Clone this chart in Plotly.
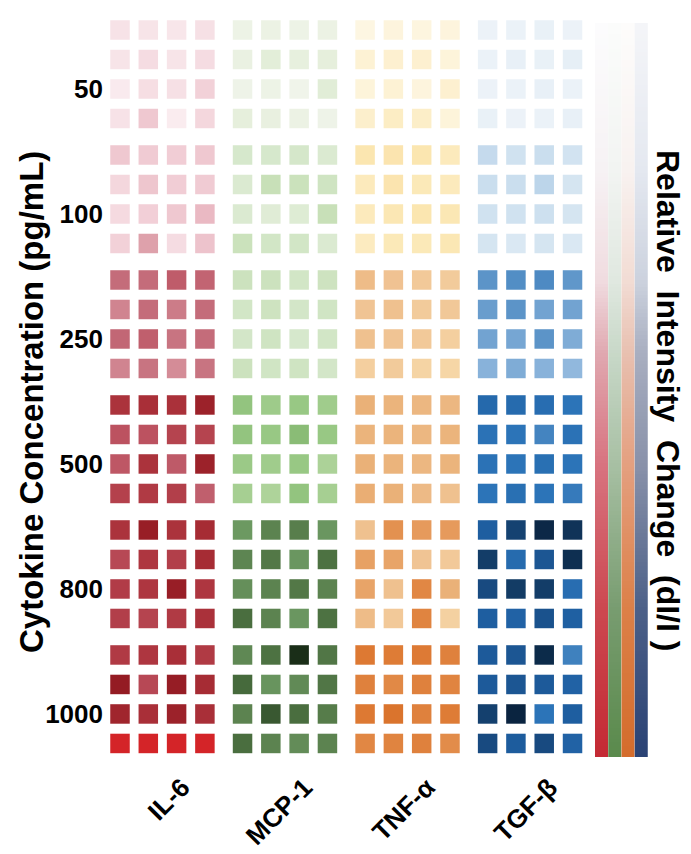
import numpy as np
import plotly.graph_objects as go

# ---- data -------------------------------------------------------------
cytokines = ["IL-6", "MCP-1", "TNF-α", "TGF-β"]
concentrations = ["50", "100", "250", "500", "800", "1000"]

# relative intensity change per well: 6 concentrations x 4 replicate rows, 4 wells per row
il6 = [
    [0.09, 0.08, 0.07, 0.10], [0.08, 0.12, 0.08, 0.12], [0.05, 0.11, 0.10, 0.18], [0.09, 0.22, 0.04, 0.15],
    [0.22, 0.21, 0.20, 0.22], [0.15, 0.23, 0.20, 0.21], [0.13, 0.19, 0.22, 0.28], [0.18, 0.36, 0.12, 0.24],
    [0.50, 0.50, 0.56, 0.53], [0.44, 0.50, 0.46, 0.50], [0.52, 0.55, 0.48, 0.50], [0.44, 0.48, 0.42, 0.48],
    [0.74, 0.76, 0.75, 0.84], [0.60, 0.60, 0.66, 0.66], [0.58, 0.74, 0.57, 0.84], [0.67, 0.70, 0.68, 0.55],
    [0.74, 0.86, 0.74, 0.78], [0.64, 0.72, 0.68, 0.78], [0.69, 0.72, 0.86, 0.72], [0.68, 0.66, 0.70, 0.75],
    [0.70, 0.72, 0.76, 0.70], [0.88, 0.64, 0.87, 0.78], [0.82, 0.76, 0.84, 0.76], [1.00, 1.00, 1.00, 1.00],
]
mcp1 = [
    [0.05, 0.06, 0.05, 0.06], [0.07, 0.12, 0.09, 0.10], [0.04, 0.05, 0.03, 0.13], [0.10, 0.08, 0.06, 0.04],
    [0.20, 0.20, 0.21, 0.17], [0.17, 0.30, 0.28, 0.25], [0.17, 0.14, 0.15, 0.30], [0.28, 0.23, 0.23, 0.17],
    [0.27, 0.27, 0.23, 0.26], [0.23, 0.26, 0.22, 0.24], [0.22, 0.25, 0.20, 0.23], [0.27, 0.24, 0.25, 0.22],
    [0.52, 0.48, 0.50, 0.47], [0.52, 0.50, 0.56, 0.50], [0.49, 0.47, 0.50, 0.43], [0.45, 0.42, 0.52, 0.45],
    [0.69, 0.78, 0.80, 0.70], [0.77, 0.83, 0.70, 0.86], [0.73, 0.78, 0.83, 0.78], [0.88, 0.78, 0.70, 0.86],
    [0.76, 0.86, 1.00, 0.84], [0.90, 0.71, 0.75, 0.84], [0.78, 0.93, 0.88, 0.81], [0.88, 0.78, 0.74, 0.78],
]
tnfa = [
    [0.06, 0.08, 0.07, 0.08], [0.11, 0.12, 0.12, 0.09], [0.09, 0.11, 0.08, 0.12], [0.13, 0.15, 0.14, 0.09],
    [0.20, 0.21, 0.20, 0.17], [0.17, 0.21, 0.18, 0.17], [0.17, 0.19, 0.20, 0.19], [0.16, 0.18, 0.18, 0.19],
    [0.45, 0.41, 0.37, 0.36], [0.40, 0.42, 0.36, 0.38], [0.42, 0.40, 0.37, 0.34], [0.34, 0.36, 0.31, 0.30],
    [0.52, 0.50, 0.48, 0.48], [0.50, 0.50, 0.48, 0.50], [0.52, 0.50, 0.48, 0.50], [0.54, 0.52, 0.46, 0.42],
    [0.42, 0.72, 0.66, 0.66], [0.62, 0.60, 0.40, 0.37], [0.60, 0.42, 0.78, 0.52], [0.45, 0.37, 0.80, 0.33],
    [0.88, 0.86, 0.87, 0.82], [0.82, 0.77, 0.82, 0.80], [0.88, 0.92, 0.82, 0.86], [0.78, 0.80, 0.82, 0.75],
]
tgfb = [
    [0.07, 0.08, 0.09, 0.07], [0.08, 0.10, 0.09, 0.11], [0.07, 0.08, 0.10, 0.08], [0.09, 0.07, 0.08, 0.10],
    [0.24, 0.20, 0.22, 0.19], [0.22, 0.22, 0.27, 0.18], [0.20, 0.20, 0.21, 0.18], [0.18, 0.16, 0.18, 0.16],
    [0.50, 0.52, 0.53, 0.49], [0.47, 0.50, 0.45, 0.45], [0.45, 0.44, 0.50, 0.42], [0.40, 0.42, 0.40, 0.38],
    [0.65, 0.64, 0.63, 0.60], [0.61, 0.60, 0.55, 0.61], [0.61, 0.60, 0.62, 0.60], [0.60, 0.62, 0.60, 0.58],
    [0.70, 0.85, 0.98, 0.93], [0.88, 0.64, 0.74, 0.95], [0.80, 0.89, 0.88, 0.63], [0.70, 0.68, 0.76, 0.69],
    [0.72, 0.74, 0.97, 0.56], [0.72, 0.74, 0.72, 0.68], [0.86, 1.00, 0.60, 0.70], [0.80, 0.71, 0.80, 0.68],
]
values = [il6, mcp1, tnfa, tgfb]

# ---- colour scales ----------------------------------------------------
def ramp(colors):
    n = len(colors) - 1
    return [[i / n, c] for i, c in enumerate(colors)]

well_scales = [
    ramp(["#fcf4f6", "#f6e0e5", "#f1cdd5", "#e8b4be", "#d8949e", "#c46c7a",
          "#bc5260", "#b03a44", "#a42830", "#901820", "#d42428"]),
    ramp(["#f4f6f0", "#e6efdc", "#d6e8cc", "#c8e0b8", "#b4d6a0", "#98c884",
          "#80b46c", "#6a9660", "#587e4c", "#466a3c", "#1a2e18"]),
    ramp(["#fefaf0", "#fdf3d8", "#fbe6b0", "#f6d6a6", "#f0c494", "#ebb47c",
          "#e8a468", "#e49454", "#e08440", "#dc7630", "#d46a20"]),
    ramp(["#f6f8fb", "#e8f0f7", "#d0e2f0", "#b4cfe8", "#88b2da", "#5c94c8",
          "#2c74b8", "#1e5ea0", "#184a80", "#123a62", "#0a2440"]),
]
bar_scales = [
    [[0, "#fcfcfd"], [0.2, "#f6f2f4"], [0.35, "#f0dce0"], [0.45, "#e0a8b0"], [0.6, "#d87480"], [0.8, "#cc4850"], [1, "#c42a34"]],
    [[0, "#fbfcfb"], [0.2, "#f2f4f2"], [0.35, "#e0e8e0"], [0.45, "#c8d8c8"], [0.6, "#a8c0a4"], [0.8, "#789c70"], [1, "#5a8a4c"]],
    [[0, "#fdfcfb"], [0.2, "#f8f2f0"], [0.35, "#f2dcd4"], [0.45, "#e8c0b0"], [0.6, "#e4a080"], [0.8, "#dc8048"], [1, "#d46c2c"]],
    [[0, "#f4f5f8"], [0.2, "#e4e8f0"], [0.35, "#ccd2de"], [0.45, "#a8aec0"], [0.6, "#8a92aa"], [0.8, "#4c6088"], [1, "#2a4274"]],
]

# ---- layout geometry (axis units) --------------------------------------
GX = 4.33    # horizontal pitch between cytokine blocks (well pitch = 1)
GY = 4.237   # vertical pitch between concentration blocks (row pitch = 1)
W, H = 691, 854
FONT = "Liberation Sans, Arial, Helvetica, sans-serif"

fig = go.Figure()

for k, (name, vals) in enumerate(zip(cytokines, values)):
    arr = np.array(vals)
    xs, ys, cs = [], [], []
    for r in range(arr.shape[0]):
        g, rr = divmod(r, 4)
        for c in range(arr.shape[1]):
            xs.append(k * GX + c)
            ys.append(g * GY + rr)
            cs.append(arr[r, c])
    fig.add_trace(go.Scatter(
        x=xs, y=ys, mode="markers", name=name, showlegend=False,
        marker=dict(symbol="square", size=19.5, color=cs, colorscale=well_scales[k],
                    cmin=0, cmax=1, showscale=False, line=dict(width=0)),
        xaxis="x", yaxis="y",
    ))

# gradient key: one stripe per cytokine, light at top, intense at bottom
levels = np.linspace(0, 1, 200)
for k in range(4):
    fig.add_trace(go.Heatmap(
        x=[k], y=levels, z=[[v] for v in levels], colorscale=bar_scales[k],
        zmin=0, zmax=1, showscale=False, xaxis="x2", yaxis="y2", hoverinfo="skip",
    ))

px_per_x = 28.3
px_per_y = 29.5
x_left, x_right = 105, 585
y_top, y_bot = 15, 760
xr0 = -(120 - x_left) / px_per_x
xr1 = xr0 + (x_right - x_left) / px_per_x
yr0 = -(30 - y_top) / px_per_y
yr1 = yr0 + (y_bot - y_top) / px_per_y

NB = "\u00a0"
fig.update_layout(
    width=W, height=H,
    margin=dict(l=0, r=0, t=0, b=0),
    paper_bgcolor="white", plot_bgcolor="white",
    font=dict(family=FONT, color="black"),
    xaxis=dict(
        domain=[x_left / W, x_right / W], range=[xr0, xr1],
        # labels are right-aligned a little past each block's centre
        tickvals=[k * GX + 2.2 for k in range(4)], ticktext=cytokines,
        tickangle=-45, tickfont=dict(size=26, weight="bold", family=FONT),
        ticks="", ticklabelstandoff=6,
        showgrid=False, zeroline=False, showline=False,
    ),
    yaxis=dict(
        domain=[1 - y_bot / H, 1 - y_top / H], range=[yr1, yr0],
        tickvals=[g * GY + 2 for g in range(6)], ticktext=concentrations,
        tickfont=dict(size=26, weight="bold", family=FONT),
        ticks="", ticklabelstandoff=1,
        showgrid=False, zeroline=False, showline=False,
    ),
    xaxis2=dict(domain=[595 / W, 648 / W], range=[-0.5, 3.5], visible=False, anchor="y2"),
    yaxis2=dict(domain=[1 - 757 / H, 1 - 23 / H], range=[1.0025, -0.0025], visible=False,
                anchor="x2"),
    annotations=[
        dict(text="Cytokine Concentration (pg/mL)", textangle=-90, showarrow=False,
             xref="paper", yref="paper", x=31 / W, y=1 - 402 / H,
             xanchor="center", yanchor="middle",
             font=dict(size=33, weight="bold", family=FONT)),
        dict(text=f"Relative{NB} Intensity{NB} Change{NB} (dI/I )", textangle=90, showarrow=False,
             xref="paper", yref="paper", x=668 / W, y=1 - 400 / H,
             xanchor="center", yanchor="middle",
             font=dict(size=32, weight="bold", family=FONT)),
    ],
)

fig.write_html("out.html")
